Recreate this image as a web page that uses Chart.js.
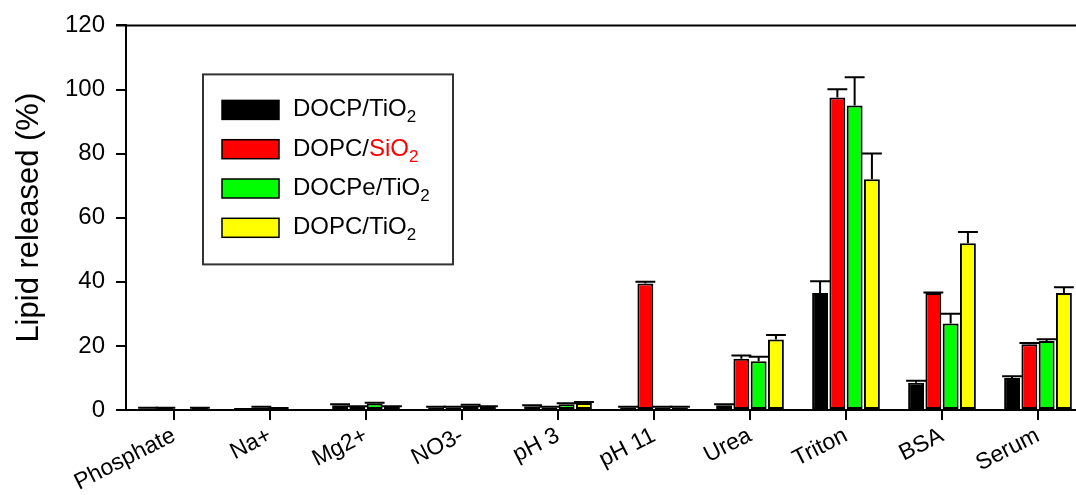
<!DOCTYPE html>
<html>
<head>
<meta charset="utf-8">
<script src="https://cdn.jsdelivr.net/npm/chart.js@4"></script>
<style>
  html, body { margin: 0; padding: 0; background: #fff; overflow: hidden; }
  #wrap { width: 1086px; height: 495px; }
</style>
</head>
<body>
<div id="wrap"><canvas id="lipidChart" width="1086" height="495"></canvas></div>
<script>
const categories = ['Phosphate', 'Na+', 'Mg2+', 'NO3-', 'pH 3', 'pH 11', 'Urea', 'Triton', 'BSA', 'Serum'];
const yTicks = [0, 20, 40, 60, 80, 100, 120];

// mean values (%)
const docpTiO2 = [0.5, 0.2, 1.5, 0.8, 1.2, 0.8, 1.5, 36.5, 8.5, 10.0];
const dopcSiO2 = [0.6, 0.8, 1.0, 0.8, 0.8, 39.5, 16.0, 97.5, 36.5, 20.5];
const docpeTiO2 = [0.05, 0.5, 2.0, 1.3, 1.8, 0.8, 15.2, 95.0, 27.0, 21.5];
const dopcTiO2 = [0.6, 0.1, 1.0, 1.0, 2.2, 0.8, 22.0, 72.0, 52.0, 36.5];

// error (upper half only)
const docpTiO2Err = [0.2, 0.1, 0.3, 0.2, 0.3, 0.2, 0.3, 3.7, 0.6, 0.5];
const dopcSiO2Err = [0.1, 0.2, 0.2, 0.2, 0.2, 0.5, 1.0, 2.6, 0.2, 0.4];
const docpeTiO2Err = [0.0, 0.1, 0.3, 0.3, 0.3, 0.2, 1.4, 8.8, 3.0, 0.6];
const dopcTiO2Err = [0.1, 0.0, 0.2, 0.2, 0.3, 0.2, 1.4, 8.0, 3.5, 1.8];

const FONT = "'Liberation Sans', Arial, Helvetica, sans-serif";

// legend entries: [main text, substance, substance colour, swatch colour]
const legendItems = [
    ['DOCP/', 'TiO', '#000000', '#000000'],
    ['DOPC/', 'SiO', '#ff0000', '#ff0000'],
    ['DOCPe/', 'TiO', '#000000', '#00ff00'],
    ['DOPC/', 'TiO', '#000000', '#ffff00']
];

const errorBars = {
    id: 'errorBars',
    afterDatasetsDraw(chart) {
        const ctx = chart.ctx;
        const yScale = chart.scales.y;
        ctx.save();
        ctx.strokeStyle = '#000';
        ctx.lineWidth = 2;
        chart.data.datasets.forEach((ds, i) => {
            const meta = chart.getDatasetMeta(i);
            meta.data.forEach((bar, j) => {
                const err = ds.errors[j];
                if (!err) return;
                const yTop = yScale.getPixelForValue(ds.data[j] + err);
                const half = bar.width / 2 + 2;
                ctx.beginPath();
                ctx.moveTo(bar.x, bar.y);
                ctx.lineTo(bar.x, yTop);
                ctx.moveTo(bar.x - half, yTop);
                ctx.lineTo(bar.x + half, yTop);
                ctx.stroke();
            });
        });
        ctx.restore();
    }
};

const frameAndLegend = {
    id: 'frameAndLegend',
    afterDraw(chart) {
        const ctx = chart.ctx;
        const area = chart.chartArea;
        ctx.save();
        // top frame line
        ctx.strokeStyle = '#000';
        ctx.lineWidth = 2;
        ctx.beginPath();
        ctx.moveTo(area.left - 10, area.top);
        ctx.lineTo(chart.width, area.top);
        ctx.stroke();

        // legend box
        const lx = area.left + 77, ly = area.top + 49;
        ctx.strokeStyle = '#333';
        ctx.lineWidth = 2;
        ctx.strokeRect(lx, ly, 250, 190);

        legendItems.forEach((item, k) => {
            const rowY = ly + 26 + k * 39.3;
            ctx.fillStyle = item[3];
            ctx.fillRect(lx + 19, rowY, 57, 19);
            ctx.strokeStyle = '#000';
            ctx.lineWidth = 1.5;
            ctx.strokeRect(lx + 19, rowY, 57, 19);

            const base = rowY + 16;
            let tx = lx + 90;
            ctx.font = '24px ' + FONT;
            ctx.textBaseline = 'alphabetic';
            ctx.textAlign = 'left';
            ctx.fillStyle = '#000';
            ctx.fillText(item[0], tx, base);
            tx += ctx.measureText(item[0]).width;
            ctx.fillStyle = item[2];
            ctx.fillText(item[1], tx, base);
            tx += ctx.measureText(item[1]).width;
            ctx.font = '17px ' + FONT;
            ctx.fillText('2', tx, base + 6);
        });
        ctx.restore();
    }
};

const makeSet = (label, data, errors, color) => ({
    label: label,
    data: data,
    errors: errors,
    backgroundColor: color,
    borderColor: '#000',
    borderWidth: 2,
    borderSkipped: false
});

new Chart(document.getElementById('lipidChart'), {
    type: 'bar',
    data: {
        labels: categories,
        datasets: [
            makeSet('DOCP/TiO2', docpTiO2, docpTiO2Err, '#000000'),
            makeSet('DOPC/SiO2', dopcSiO2, dopcSiO2Err, '#ff0000'),
            makeSet('DOCPe/TiO2', docpeTiO2, docpeTiO2Err, '#00ff00'),
            makeSet('DOPC/TiO2', dopcTiO2, dopcTiO2Err, '#ffff00')
        ]
    },
    options: {
        responsive: false,
        animation: false,
        devicePixelRatio: 1,
        categoryPercentage: 0.72,
        barPercentage: 0.92,
        layout: { padding: { top: 21, right: 0, left: 0, bottom: 0 } },
        plugins: {
            legend: { display: false },
            tooltip: { enabled: false }
        },
        scales: {
            x: {
                offset: true,
                grid: {
                    offset: false,
                    drawOnChartArea: false,
                    color: '#000',
                    lineWidth: 2,
                    tickLength: 10
                },
                border: { color: '#000', width: 2 },
                ticks: {
                    color: '#000',
                    font: { family: FONT, size: 23 },
                    minRotation: 27,
                    maxRotation: 27,
                    padding: 2,
                    autoSkip: false
                },
                afterFit(scale) {
                    scale.height = 85;
                    scale.paddingLeft = 0;
                    scale.paddingRight = 0;
                }
            },
            y: {
                min: 0,
                max: 120,
                afterBuildTicks(scale) {
                    scale.ticks = yTicks.map(v => ({ value: v }));
                },
                grid: {
                    drawOnChartArea: false,
                    color: '#000',
                    lineWidth: 2,
                    tickLength: 10
                },
                border: { color: '#000', width: 2 },
                ticks: {
                    color: '#000',
                    font: { family: FONT, size: 24 },
                    padding: 11
                },
                title: {
                    display: true,
                    text: 'Lipid released (%)',
                    color: '#000',
                    font: { family: FONT, size: 31 },
                    padding: { top: 11, bottom: 0 }
                },
                afterFit(scale) {
                    scale.width = 126;
                }
            }
        }
    },
    plugins: [errorBars, frameAndLegend]
});
</script>
</body>
</html>
